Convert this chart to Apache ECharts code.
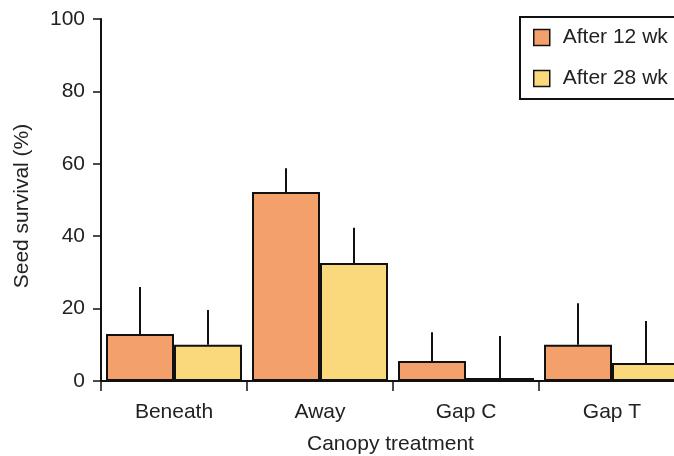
<!DOCTYPE html>
<html><head><meta charset="utf-8">
<script src="https://cdn.jsdelivr.net/npm/echarts@6/dist/echarts.min.js"></script>
<style>html,body{margin:0;padding:0;background:#fff}#c{width:674px;height:456px}</style>
</head><body><div id="c"></div>
<script>
const categories = ['Beneath', 'Away', 'Gap C', 'Gap T'];
const seriesNames = ['After 12 wk', 'After 28 wk'];
const wk12 = [13, 52.2, 5.5, 10];
const wk12Err = [26, 58.8, 13.5, 21.5];
const wk28 = [10, 32.6, 0.8, 5];
const wk28Err = [19.6, 42.3, 12.4, 16.6];
const yTicks = [0, 20, 40, 60, 80, 100];

const FONT = 'Liberation Sans';
const FS = 21;
const BAR_W = 68;
function errData(vals, errs) { return vals.map((v, i) => [i, v, errs[i]]); }
function errSeries(vals, errs, offset) {
  return {
    type: 'custom', z: 5, silent: true,
    data: errData(vals, errs),
    renderItem: function (params, api) {
      const p0 = api.coord([api.value(0), api.value(1)]);
      const p1 = api.coord([api.value(0), api.value(2)]);
      return { type: 'line', shape: { x1: p0[0] + offset, y1: p0[1], x2: p1[0] + offset, y2: p1[1] },
        style: { stroke: '#111', lineWidth: 2 } };
    }
  };
}
const chart = echarts.init(document.getElementById('c'));
chart.setOption({
  animation: false,
  textStyle: { fontFamily: FONT },
  grid: { left: 101, top: 19, width: 584, height: 362, containLabel: false, outerBoundsMode: 'none' },
  legend: {
    orient: 'vertical', left: 520, top: 17, itemWidth: 16, itemHeight: 16, itemGap: 20,
    icon: 'rect',
    padding: [10, 40, 10, 13], borderColor: '#111', borderWidth: 2,
    data: seriesNames,
    textStyle: { fontFamily: FONT, fontSize: FS, color: '#222', padding: [0, 0, 0, 8] },
    itemStyle: { borderColor: '#111', borderWidth: 1.5 }
  },
  xAxis: {
    type: 'category', data: categories,
    axisLine: { lineStyle: { color: '#111', width: 2 } },
    axisTick: { show: true, length: 10, lineStyle: { color: '#111', width: 1.5 } },
    axisLabel: { margin: 21, fontSize: FS, color: '#222', fontFamily: FONT }
  },
  yAxis: {
    type: 'value', min: 0, max: 100, interval: 20,
    name: 'Seed survival (%)', nameLocation: 'middle', nameGap: 68, nameRotate: 90,
    nameTextStyle: { fontSize: FS, color: '#222', fontFamily: FONT, padding: [0, 12, 0, 0] },
    axisLine: { show: true, lineStyle: { color: '#111', width: 2 } },
    axisTick: { show: true, length: 8, lineStyle: { color: '#111', width: 1.5 } },
    axisLabel: { margin: 16, fontSize: FS, color: '#222', fontFamily: FONT },
    splitLine: { show: false }
  },
  series: [
    { name: seriesNames[0], type: 'bar', data: wk12, barWidth: BAR_W, barGap: '0%',
      itemStyle: { color: '#F4A06B', borderColor: '#111', borderWidth: 2 } },
    { name: seriesNames[1], type: 'bar', data: wk28, barWidth: BAR_W, barGap: '0%',
      itemStyle: { color: '#FAD87C', borderColor: '#111', borderWidth: 2 } },
    errSeries(wk12, wk12Err, -BAR_W / 2),
    errSeries(wk28, wk28Err, BAR_W / 2)
  ],
  graphic: [{ type: 'text', left: 307, top: 434,
    style: { text: 'Canopy treatment', fontSize: FS, fill: '#222', fontFamily: FONT } }]
});
</script></body></html>
